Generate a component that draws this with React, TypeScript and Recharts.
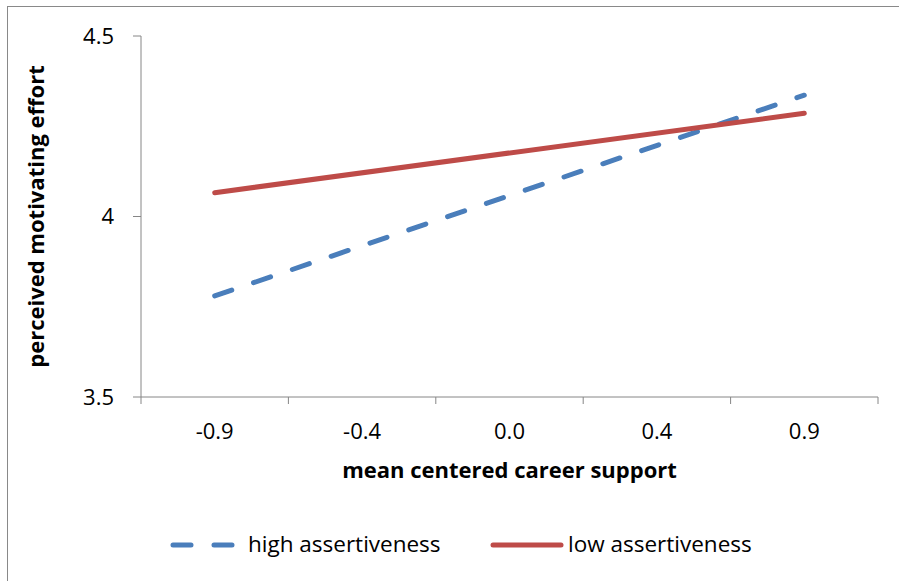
import { LineChart, Line, XAxis, YAxis, Label } from "recharts";

const categories = ["-0.9", "-0.4", "0.0", "0.4", "0.9"];
const highValues = [3.78, null, null, null, 4.336];
const lowValues = [4.066, null, null, null, 4.286];
const yTicks = [3.5, 4, 4.5];
const yTickLabels = ["3.5", "4", "4.5"];
const seriesNames = ["high assertiveness", "low assertiveness"];

const FONT = "'Open Sans', Lato, sans-serif";
const AXIS_GRAY = "#868686";
const BLUE = "#4A7EBB";
const RED = "#BE4B48";
const X_TICK_MARGIN = 26;

const data = categories.map((c, i) => ({
  idx: i,
  label: c,
  high: highValues[i],
  low: lowValues[i],
}));

// ticks at every category plus the boundaries between them (Excel style)
const xTicks = categories.flatMap((_, i) => [i - 0.5, i]).concat(categories.length - 0.5);

// eslint-disable-next-line @typescript-eslint/no-explicit-any
const XTick = (props: any) => {
  const { x, y, payload } = props;
  const v = payload.value;
  if (Number.isInteger(v)) {
    return (
      <text x={x} y={y} dy="0.71em" textAnchor="middle" fill="#000" fontSize={22} fontFamily={FONT}>
        {categories[v]}
      </text>
    );
  }
  const axisY = y - X_TICK_MARGIN;
  return <line x1={x} x2={x} y1={axisY} y2={axisY + 7} stroke={AXIS_GRAY} strokeWidth={1} />;
};

// eslint-disable-next-line @typescript-eslint/no-explicit-any
const YTitle = (props: any) => {
  const { viewBox } = props;
  const cx = 35;
  const cy = viewBox.y + viewBox.height / 2;
  return (
    <text
      x={cx}
      y={cy}
      transform={`rotate(-90, ${cx}, ${cy})`}
      textAnchor="middle"
      dominantBaseline="central"
      fontWeight="bold"
      fontSize={22}
      fontFamily={FONT}
      fill="#000"
    >
      perceived motivating effort
    </text>
  );
};

// eslint-disable-next-line @typescript-eslint/no-explicit-any
const XTitle = (props: any) => {
  const { viewBox } = props;
  return (
    <text
      x={viewBox.x + viewBox.width / 2}
      y={viewBox.y + 81}
      textAnchor="middle"
      fontWeight="bold"
      fontSize={22}
      fontFamily={FONT}
      fill="#000"
    >
      mean centered career support
    </text>
  );
};

function LegendBox() {
  const text = { position: "absolute" as const, top: 0, fontSize: 22.5, fontFamily: FONT, lineHeight: "30px", color: "#000" };
  return (
    <div style={{ position: "absolute", top: 529, left: 0, width: 899, height: 30 }}>
      <svg style={{ position: "absolute", left: 168, top: 11 }} width={70} height={10}>
        <line x1={5} x2={65} y1={5} y2={5} stroke={BLUE} strokeWidth={5} strokeDasharray="18 23" strokeLinecap="round" />
      </svg>
      <span style={{ ...text, left: 248 }}>{seriesNames[0]}</span>
      <svg style={{ position: "absolute", left: 489, top: 11 }} width={76} height={10}>
        <line x1={4} x2={72} y1={5} y2={5} stroke={RED} strokeWidth={5} strokeLinecap="round" />
      </svg>
      <span style={{ ...text, left: 568 }}>{seriesNames[1]}</span>
    </div>
  );
}

export default function App() {
  return (
    <div style={{ position: "absolute", top: 0, left: 0, width: 899, height: 581, background: "#fff", overflow: "hidden" }}>
      <div
        style={{
          position: "absolute",
          top: 6,
          left: 7,
          width: 892,
          height: 575,
          borderTop: "1px solid #898989",
          borderLeft: "1px solid #898989",
          boxSizing: "border-box",
        }}
      />
      <div style={{ position: "absolute", top: 0, left: 0 }}>
        <LineChart width={899} height={581} data={data} margin={{ top: 36, right: 21, left: 0, bottom: 94 }}>
          <XAxis
            dataKey="idx"
            type="number"
            domain={[-0.5, categories.length - 0.5]}
            ticks={xTicks}
            interval={0}
            tick={<XTick />}
            tickLine={false}
            tickSize={0}
            tickMargin={X_TICK_MARGIN}
            axisLine={{ stroke: AXIS_GRAY, strokeWidth: 1 }}
            height={90}
          >
            <Label content={<XTitle />} />
          </XAxis>
          <YAxis
            type="number"
            domain={[3.5, 4.5]}
            ticks={yTicks}
            interval={0}
            tickFormatter={(v: number) => yTickLabels[yTicks.indexOf(v)]}
            tick={{ fill: "#000", fontSize: 22, fontFamily: FONT }}
            tickLine={{ stroke: AXIS_GRAY, strokeWidth: 1 }}
            tickSize={8}
            tickMargin={19}
            axisLine={{ stroke: AXIS_GRAY, strokeWidth: 1 }}
            width={141}
          >
            <Label content={<YTitle />} />
          </YAxis>
          <Line
            type="linear"
            dataKey="high"
            name={seriesNames[0]}
            stroke={BLUE}
            strokeWidth={5}
            strokeDasharray="18 23"
            strokeLinecap="round"
            dot={false}
            activeDot={false}
            connectNulls
            isAnimationActive={false}
          />
          <Line
            type="linear"
            dataKey="low"
            name={seriesNames[1]}
            stroke={RED}
            strokeWidth={5}
            strokeLinecap="round"
            dot={false}
            activeDot={false}
            connectNulls
            isAnimationActive={false}
          />
        </LineChart>
      </div>
      <LegendBox />
    </div>
  );
}
